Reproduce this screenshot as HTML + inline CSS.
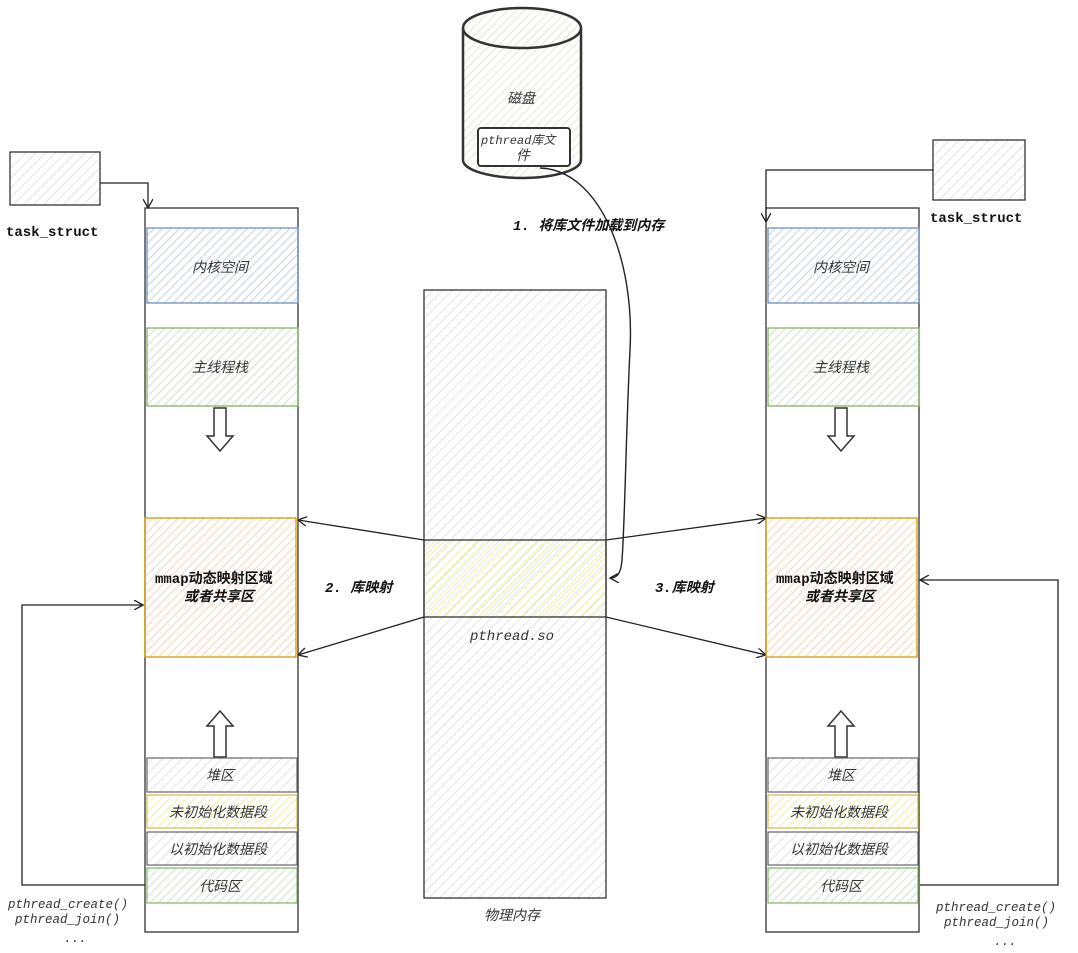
<!DOCTYPE html>
<html><head><meta charset="utf-8"><style>
html,body{margin:0;padding:0;background:#fff;}
svg{display:block;}
text{font-family:"Liberation Sans","Noto Sans CJK SC",sans-serif;font-size:14px;font-style:italic;fill:#333;}
.m{font-family:"Liberation Mono","Noto Sans CJK SC",monospace;}
.b{font-weight:bold;fill:#111;}
</style></head><body>
<svg width="1078" height="953" viewBox="0 0 1078 953" xmlns="http://www.w3.org/2000/svg">
<defs>
<pattern id="h" width="7" height="7" patternUnits="userSpaceOnUse" patternTransform="rotate(45)"><line x1="0" y1="0" x2="0" y2="7" stroke="#dcdcdc" stroke-width="1.5"/></pattern>
<pattern id="hb" width="6" height="6" patternUnits="userSpaceOnUse" patternTransform="rotate(45)"><line x1="0" y1="0" x2="0" y2="6" stroke="#c2d1ec" stroke-width="2"/></pattern>
<pattern id="hg" width="6" height="6" patternUnits="userSpaceOnUse" patternTransform="rotate(45)"><line x1="0" y1="0" x2="0" y2="6" stroke="#cfe4c6" stroke-width="2"/></pattern>
<pattern id="ho" width="6" height="6" patternUnits="userSpaceOnUse" patternTransform="rotate(45)"><line x1="0" y1="0" x2="0" y2="6" stroke="#fbd3b8" stroke-width="2"/></pattern>
<pattern id="hy" width="6" height="6" patternUnits="userSpaceOnUse" patternTransform="rotate(45)"><line x1="0" y1="0" x2="0" y2="6" stroke="#f2f0a0" stroke-width="2"/></pattern>
<pattern id="hd" width="6" height="6" patternUnits="userSpaceOnUse" patternTransform="rotate(45)"><line x1="0" y1="0" x2="0" y2="6" stroke="#e8e7cc" stroke-width="2"/></pattern>
<marker id="a" markerWidth="10" markerHeight="10" refX="9" refY="5" orient="auto" markerUnits="userSpaceOnUse"><path d="M0,0 L9,5 L0,10" fill="none" stroke="#222" stroke-width="1.3"/></marker>
</defs>

<path d="M463,28 L463,160 A59,18 0 0 0 581,160 L581,28" fill="url(#hd)" stroke="#333" stroke-width="2.5"/>
<ellipse cx="522" cy="28" rx="59" ry="20" fill="url(#hd)" stroke="#333" stroke-width="2.5"/>
<text x="507" y="103">磁盘</text>
<rect x="478" y="128" width="92" height="38" rx="3" fill="#fff" stroke="#333" stroke-width="2"/>
<text x="481" y="144" class="m" style="font-size:12px">pthread<tspan style="font-family:'Noto Sans CJK SC',sans-serif">库文</tspan></text>
<text x="516" y="160">件</text>
<path d="M540,168 C600,170 635,260 630,350 C626,430 625,520 622,560 C621,575 616,578 610,578" fill="none" stroke="#222" stroke-width="1.4" marker-end="url(#a)"/>
<text x="513" y="230" class="b m">1. 将库文件加载到内存</text>

<rect x="424" y="290" width="182" height="608" fill="url(#h)" stroke="#333" stroke-width="1.3"/>
<rect x="424" y="540" width="182" height="77" fill="url(#hy)" stroke="#333" stroke-width="1.3"/>
<text x="470" y="640" class="m">pthread.so</text>
<text x="484" y="920">物理内存</text>
<line x1="424" y1="540" x2="298" y2="520" stroke="#222" stroke-width="1.3" marker-end="url(#a)"/>
<line x1="424" y1="617" x2="298" y2="655" stroke="#222" stroke-width="1.3" marker-end="url(#a)"/>
<line x1="606" y1="540" x2="766" y2="518" stroke="#222" stroke-width="1.3" marker-end="url(#a)"/>
<line x1="606" y1="617" x2="766" y2="655" stroke="#222" stroke-width="1.3" marker-end="url(#a)"/>
<text x="325" y="592" class="b m">2. 库映射</text>
<text x="655" y="592" class="b m">3.库映射</text>

<g id="col">
<rect x="145" y="208" width="153" height="724" fill="#fff" stroke="#333" stroke-width="1.3"/>
<rect x="147" y="228" width="151" height="75" fill="url(#hb)" stroke="#6c8ebf" stroke-width="1.3"/>
<text x="192" y="272">内核空间</text>
<rect x="147" y="328" width="151" height="78" fill="url(#hg)" stroke="#82b366" stroke-width="1.3"/>
<text x="192" y="372">主线程栈</text>
<path d="M214,408 L226,408 L226,436 L233,436 L220,451 L207,436 L214,436 Z" fill="#fff" stroke="#333" stroke-width="1.5"/>
<rect x="145" y="518" width="151" height="139" fill="url(#ho)" stroke="#d79b00" stroke-width="1.3"/>
<text x="155" y="583" class="b m" style="font-style:normal">mmap动态映射区域</text>
<text x="184" y="601" class="b">或者共享区</text>
<path d="M214,757 L226,757 L226,726 L233,726 L220,711 L207,726 L214,726 Z" fill="#fff" stroke="#333" stroke-width="1.5"/>
<rect x="147" y="758" width="150" height="34" fill="url(#h)" stroke="#666" stroke-width="1.2"/>
<text x="206" y="780">堆区</text>
<rect x="147" y="795" width="150" height="33" fill="url(#hy)" stroke="#d6b656" stroke-width="1.2"/>
<text x="169" y="817">未初始化数据段</text>
<rect x="147" y="832" width="150" height="33" fill="url(#h)" stroke="#666" stroke-width="1.2"/>
<text x="169" y="854">以初始化数据段</text>
<rect x="147" y="868" width="150" height="35" fill="url(#hg)" stroke="#82b366" stroke-width="1.2"/>
<text x="199" y="891">代码区</text>
</g>
<use href="#col" x="621"/>

<rect x="10" y="152" width="90" height="53" fill="url(#h)" stroke="#333" stroke-width="1.3"/>
<text x="6" y="236" class="b m" style="font-style:normal">task_struct</text>
<path d="M100,183 L148,183 L148,208" fill="none" stroke="#222" stroke-width="1.3" marker-end="url(#a)"/>
<path d="M145,885 L22,885 L22,605 L143,605" fill="none" stroke="#222" stroke-width="1.3" marker-end="url(#a)"/>
<text x="8" y="908" class="m" style="font-size:12.5px">pthread_create()</text>
<text x="15" y="923" class="m" style="font-size:12.5px">pthread_join()</text>
<text x="64" y="942" class="m" style="font-size:12.5px">...</text>

<rect x="933" y="140" width="92" height="60" fill="url(#h)" stroke="#333" stroke-width="1.3"/>
<text x="930" y="222" class="b m" style="font-style:normal">task_struct</text>
<path d="M933,170 L766,170 L766,222" fill="none" stroke="#222" stroke-width="1.3" marker-end="url(#a)"/>
<path d="M920,885 L1058,885 L1058,580 L920,580" fill="none" stroke="#222" stroke-width="1.3" marker-end="url(#a)"/>
<text x="936" y="911" class="m" style="font-size:12.5px">pthread_create()</text>
<text x="944" y="926" class="m" style="font-size:12.5px">pthread_join()</text>
<text x="994" y="945" class="m" style="font-size:12.5px">...</text>
</svg>
</body></html>
